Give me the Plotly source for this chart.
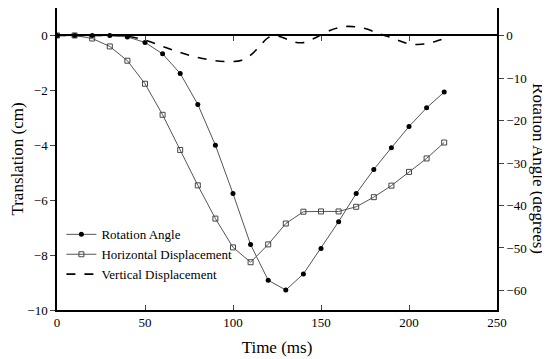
import plotly.graph_objects as go

# Time samples (ms) for markers series
time_ms = [0, 10, 20, 30, 40, 50, 60, 70, 80, 90, 100, 110, 120, 130, 140, 150, 160, 170, 180, 190, 200, 210, 220]
rotation_deg = [0, 0, 0, 0, -0.3, -1.6, -4.3, -8.9, -16.2, -25.8, -37.2, -49.2, -57.6, -59.9, -56.1, -50.1, -43.8, -37.2, -31.5, -26.4, -21.4, -17.0, -13.3]
horizontal_cm = [0, 0, -0.11, -0.40, -0.92, -1.76, -2.89, -4.17, -5.46, -6.67, -7.72, -8.26, -7.61, -6.85, -6.42, -6.41, -6.41, -6.24, -5.89, -5.47, -4.97, -4.48, -3.90]

# Vertical displacement (dashed, no markers)
time_v = [0, 10, 20, 30, 40, 50, 60, 70, 80, 90, 100, 105, 110, 115, 120, 125, 130, 135, 140, 145, 150, 155, 160, 165, 170, 175, 180, 185, 190, 195, 200, 205, 210, 215, 220]
vertical_cm = [0, 0, 0, 0, -0.03, -0.17, -0.4, -0.62, -0.8, -0.92, -0.95, -0.9, -0.72, -0.4, -0.08, -0.02, -0.12, -0.24, -0.26, -0.14, 0.02, 0.18, 0.28, 0.33, 0.31, 0.25, 0.14, 0.02, -0.08, -0.2, -0.31, -0.33, -0.3, -0.22, -0.12]

x_ticks = [0, 50, 100, 150, 200, 250]
left_ticks = [-10, -8, -6, -4, -2, 0]
right_ticks = [-60, -50, -40, -30, -20, -10, 0]

FONT = "Liberation Serif"
TICKFONT = dict(family=FONT, size=13, color="black")

fig = go.Figure()
fig.add_trace(go.Scatter(
    x=time_ms, y=rotation_deg, name="Rotation Angle", yaxis="y2",
    mode="lines+markers",
    line=dict(color="#555555", width=1),
    marker=dict(symbol="circle", size=5, color="black"),
))
fig.add_trace(go.Scatter(
    x=time_ms, y=horizontal_cm, name="Horizontal Displacement",
    mode="lines+markers",
    line=dict(color="#555555", width=1),
    marker=dict(symbol="square-open", size=5, color="#444444", line=dict(width=1)),
))
fig.add_trace(go.Scatter(
    x=time_v, y=vertical_cm, name="Vertical Displacement",
    mode="lines", line=dict(color="black", width=1.6, dash="dash", shape="spline"),
))
# invisible trace to hold the zero-line axis
fig.add_trace(go.Scatter(x=[0], y=[0], xaxis="x2", mode="markers",
                         marker=dict(opacity=0), showlegend=False, hoverinfo="skip"))

# page body has an 8px default margin, so the figure is sized to fit the window
fig.update_layout(
    width=542, height=351,
    margin=dict(l=49, r=53, t=0, b=49, autoexpand=False),
    paper_bgcolor="white", plot_bgcolor="white",
    font=dict(family=FONT, size=13, color="black"),
    showlegend=True,
    legend=dict(x=0.01, y=0.30, xanchor="left", yanchor="top",
                bgcolor="rgba(0,0,0,0)", font=dict(size=13, family=FONT),
                tracegroupgap=0, itemwidth=30),
    xaxis=dict(range=[0, 250], tickvals=x_ticks, ticks="inside", ticklen=5,
               tickfont=TICKFONT, automargin=False,
               showline=True, linecolor="black", linewidth=1.5, showgrid=False,
               zeroline=False, title=dict(text="Time (ms)", font=dict(size=17, family=FONT), standoff=12)),
    xaxis2=dict(range=[0, 250], overlaying="x", anchor="free", position=10/11,
                side="bottom", tickvals=[50, 100, 150, 200], ticks="outside", ticklen=5,
                showticklabels=False, showline=True, linecolor="black", linewidth=1.5,
                showgrid=False, zeroline=False, automargin=False),
    yaxis=dict(range=[-10, 1], tickvals=left_ticks, ticks="outside", ticklen=5,
               tickfont=TICKFONT, automargin=False,
               showline=True, linecolor="black", linewidth=1.5, showgrid=False,
               zeroline=False, title=dict(text="Translation (cm)", font=dict(size=17, family=FONT), standoff=14)),
    yaxis2=dict(range=[-64.6, 6.5], tickvals=right_ticks, ticks="outside", ticklen=5,
                tickfont=TICKFONT, automargin=False,
                overlaying="y", side="right", showline=True, linecolor="black", linewidth=1.5,
                showgrid=False, zeroline=False),
    annotations=[dict(text="Rotation Angle (degrees)", textangle=90, x=1, xref="paper",
                      xshift=42, xanchor="center", y=0.47, yref="paper", showarrow=False,
                      font=dict(size=17, family=FONT))],
)

fig.write_html("out.html")
